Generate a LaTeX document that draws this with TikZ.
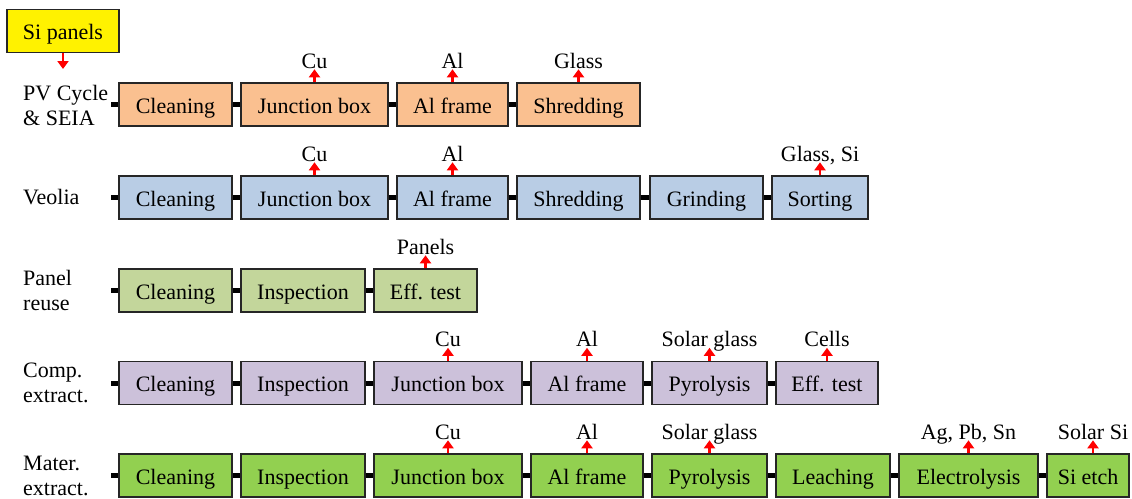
\documentclass[tikz,border=0pt]{standalone}
\usepackage{fontspec}
\setmainfont{Liberation Serif}
\usetikzlibrary{arrows.meta}
\definecolor{orow}{HTML}{FAC090}
\definecolor{brow}{HTML}{B9CDE5}
\definecolor{grow}{HTML}{C3D69B}
\definecolor{prow}{HTML}{CCC1DA}
\definecolor{mrow}{HTML}{92D050}
\newcommand\mybox[5]{\node[box,minimum width={#3-#2}] (#1) at ({(#2+#3)/2},#4) {#5};}
\newcommand\myout[4][0]{\node[outlab] (#2o) at ([xshift=#1pt,yshift=13pt]#2.north) {#3};
  \draw[outarr] (#2.north -| #2o.south) -- (#2o.south);}
\begin{document}
\begin{tikzpicture}[x=1pt,y=-1pt,
  every node/.style={font=\fontsize{22}{25}\selectfont},
  box/.style={draw=black!85,line width=1.4pt,minimum height=43pt,inner sep=0pt,text height=20pt,text depth=3pt},
  conn/.style={line width=5pt,black},
  outarr/.style={red,line width=2.6pt,-{Triangle[width=11pt,length=8pt]}},
  outlab/.style={anchor=south,inner sep=1pt,text depth=0pt},
  rowlab/.style={anchor=west,align=left,inner sep=0pt}]
\useasboundingbox (0,0) rectangle (1132,498);

% Si panels
\node[box,fill=yellow,minimum width=112] (si) at (63,31) {Si panels};
\coordinate (siarr) at (63,69);
\draw[outarr] (si.south) -- (siarr);

% Row 1
\node[rowlab] (l1) at (23,105) {PV Cycle\\\& SEIA};
\begin{scope}[box/.append style={fill=orow}]
\mybox{c1}{119}{232}{104.5}{Cleaning}
\mybox{j1}{241}{388}{104.5}{Junction box}
\mybox{a1}{397}{508}{104.5}{Al frame}
\mybox{s1}{517}{640}{104.5}{Shredding}
\end{scope}
\coordinate (st1) at (111,104.5);
\draw[conn] (st1) -- (c1.west);
\draw[conn] (c1.east) -- (j1.west);
\draw[conn] (j1.east) -- (a1.west);
\draw[conn] (a1.east) -- (s1.west);
\myout{j1}{Cu}{}
\myout{a1}{Al}{}
\myout{s1}{Glass}{}

% Row 2
\node[rowlab] (l2) at (23,197.5) {Veolia};
\begin{scope}[box/.append style={fill=brow}]
\mybox{c2}{119}{232}{197.5}{Cleaning}
\mybox{j2}{241}{388}{197.5}{Junction box}
\mybox{a2}{397}{508}{197.5}{Al frame}
\mybox{s2}{517}{640}{197.5}{Shredding}
\mybox{g2}{650}{763}{197.5}{Grinding}
\mybox{t2}{772}{868}{197.5}{Sorting}
\end{scope}
\coordinate (st2) at (111,197.5);
\draw[conn] (st2) -- (c2.west);
\draw[conn] (c2.east) -- (j2.west);
\draw[conn] (j2.east) -- (a2.west);
\draw[conn] (a2.east) -- (s2.west);
\draw[conn] (s2.east) -- (g2.west);
\draw[conn] (g2.east) -- (t2.west);
\myout{j2}{Cu}{}
\myout{a2}{Al}{}
\myout{t2}{Glass, Si}{}

% Row 3
\node[rowlab] (l3) at (23,290.5) {Panel\\reuse};
\begin{scope}[box/.append style={fill=grow}]
\mybox{c3}{119}{232}{290.5}{Cleaning}
\mybox{i3}{241}{365}{290.5}{Inspection}
\mybox{e3}{374}{477}{290.5}{Eff. test}
\end{scope}
\coordinate (st3) at (111,290.5);
\draw[conn] (st3) -- (c3.west);
\draw[conn] (c3.east) -- (i3.west);
\draw[conn] (i3.east) -- (e3.west);
\myout{e3}{Panels}{}

% Row 4
\node[rowlab] (l4) at (23,383) {Comp.\\extract.};
\begin{scope}[box/.append style={fill=prow}]
\mybox{c4}{119}{232}{383}{Cleaning}
\mybox{i4}{241}{365}{383}{Inspection}
\mybox{j4}{374}{522}{383}{Junction box}
\mybox{a4}{531}{643}{383}{Al frame}
\mybox{p4}{652}{767}{383}{Pyrolysis}
\mybox{e4}{776}{878}{383}{Eff. test}
\end{scope}
\coordinate (st4) at (111,383);
\draw[conn] (st4) -- (c4.west);
\draw[conn] (c4.east) -- (i4.west);
\draw[conn] (i4.east) -- (j4.west);
\draw[conn] (j4.east) -- (a4.west);
\draw[conn] (a4.east) -- (p4.west);
\draw[conn] (p4.east) -- (e4.west);
\myout{j4}{Cu}{}
\myout{a4}{Al}{}
\myout{p4}{Solar glass}{}
\myout{e4}{Cells}{}

% Row 5
\node[rowlab] (l5) at (23,475.5) {Mater.\\extract.};
\begin{scope}[box/.append style={fill=mrow}]
\mybox{c5}{119}{232}{475.5}{Cleaning}
\mybox{i5}{241}{365}{475.5}{Inspection}
\mybox{j5}{374}{522}{475.5}{Junction box}
\mybox{a5}{531}{643}{475.5}{Al frame}
\mybox{p5}{652}{767}{475.5}{Pyrolysis}
\mybox{l5b}{776}{890}{475.5}{Leaching}
\mybox{el5}{899}{1038}{475.5}{Electrolysis}
\mybox{se5}{1047}{1129}{475.5}{Si etch}
\end{scope}
\coordinate (st5) at (111,475.5);
\draw[conn] (st5) -- (c5.west);
\draw[conn] (c5.east) -- (i5.west);
\draw[conn] (i5.east) -- (j5.west);
\draw[conn] (j5.east) -- (a5.west);
\draw[conn] (a5.east) -- (p5.west);
\draw[conn] (p5.east) -- (l5b.west);
\draw[conn] (l5b.east) -- (el5.west);
\draw[conn] (el5.east) -- (se5.west);
\myout{j5}{Cu}{}
\myout{a5}{Al}{}
\myout{p5}{Solar glass}{}
\myout{el5}{Ag, Pb, Sn}{}
\myout[5]{se5}{Solar Si}{}
\end{tikzpicture}
\end{document}
